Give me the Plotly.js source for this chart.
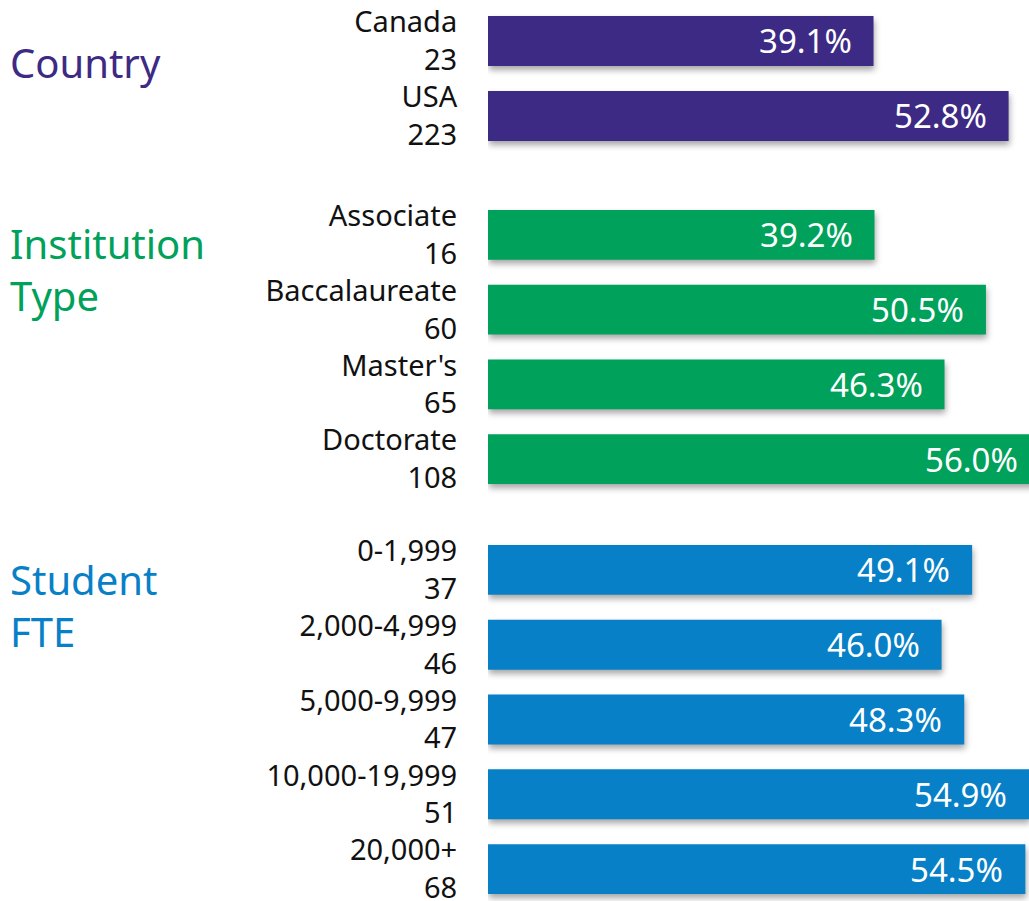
<!DOCTYPE html>
<html>
<head>
<meta charset="utf-8">
<script src="https://cdn.plot.ly/plotly-3.0.1.min.js"></script>
<style>
html, body { margin: 0; padding: 0; overflow: hidden; background: #fff; }
#chart { width: 1100px; height: 910px; }
.barlayer .point path { filter: drop-shadow(1px 4px 3px rgba(0,0,0,0.35)); }
</style>
</head>
<body>
<div id="chart"></div>
<script>
// Data
const groupTitles = ['Country', 'Institution<br>Type', 'Student<br>FTE'];
const groupColors = ['#3c2a84', '#00a15a', '#0780c7'];

const countryCats = ['Canada', 'USA'];
const countryN = [23, 223];
const countryPct = [39.1, 52.8];

const instCats = ['Associate', 'Baccalaureate', "Master's", 'Doctorate'];
const instN = [16, 60, 65, 108];
const instPct = [39.2, 50.5, 46.3, 56.0];

const fteCats = ['0-1,999', '2,000-4,999', '5,000-9,999', '10,000-19,999', '20,000+'];
const fteN = [37, 46, 47, 51, 68];
const ftePct = [49.1, 46.0, 48.3, 54.9, 54.5];

// Layout helpers
const W = 1100, H = 910, L = 488;
const pxPerUnit = 9.86;
const font = 'Noto Sans, Open Sans, sans-serif';
const groups = [
  {cats: countryCats, n: countryN, pct: countryPct, top: 3.5, bottom: 153.5, titleY: 63},
  {cats: instCats, n: instN, pct: instPct, top: 197.5, bottom: 496.5, titleY: 269},
  {cats: fteCats, n: fteN, pct: ftePct, top: 532.5, bottom: 906.5, titleY: 605}
];

const traces = [];
const annotations = [];
const layout = {
  width: W, height: H,
  margin: {l: L, r: 0, t: 0, b: 0, pad: 0},
  paper_bgcolor: '#fff', plot_bgcolor: '#fff',
  showlegend: false,
  bargap: 1/3,
  font: {family: font, color: '#111', size: 29},
  xaxis: {range: [0, (W - L) / pxPerUnit], visible: false, fixedrange: true},
  annotations: annotations
};

groups.forEach((g, i) => {
  const yName = i === 0 ? 'y' : 'y' + (i + 1);
  const yKey = i === 0 ? 'yaxis' : 'yaxis' + (i + 1);
  const labels = g.cats.map((c, j) => c + '<br>' + g.n[j]);
  traces.push({
    type: 'bar', orientation: 'h',
    x: g.pct, y: labels,
    xaxis: 'x', yaxis: yName,
    marker: {color: groupColors[i], line: {width: 0}},
    hoverinfo: 'skip'
  });
  layout[yKey] = {
    domain: [1 - g.bottom / H, 1 - g.top / H],
    anchor: 'x',
    type: 'category',
    autorange: 'reversed',
    showgrid: false, zeroline: false, showline: false,
    ticks: 'outside', ticklen: 24, tickcolor: 'rgba(0,0,0,0)',
    tickfont: {family: font, size: 29, color: '#111'},
    fixedrange: true
  };
  g.pct.forEach((v, j) => {
    annotations.push({
      xref: 'x', yref: yName,
      x: v, y: labels[j],
      text: v.toFixed(1) + '%',
      xanchor: 'right', yanchor: 'middle',
      xshift: -20,
      showarrow: false,
      font: {family: font, size: 33, color: '#fff'}
    });
  });
  annotations.push({
    xref: 'paper', yref: 'paper',
    x: 0, y: 1 - g.titleY / H,
    xshift: -480,
    xanchor: 'left', yanchor: 'middle', align: 'left',
    text: groupTitles[i],
    showarrow: false,
    font: {family: font, size: 40, color: groupColors[i]}
  });
});

Plotly.newPlot('chart', traces, layout, {displayModeBar: false, staticPlot: true});
</script>
</body>
</html>
